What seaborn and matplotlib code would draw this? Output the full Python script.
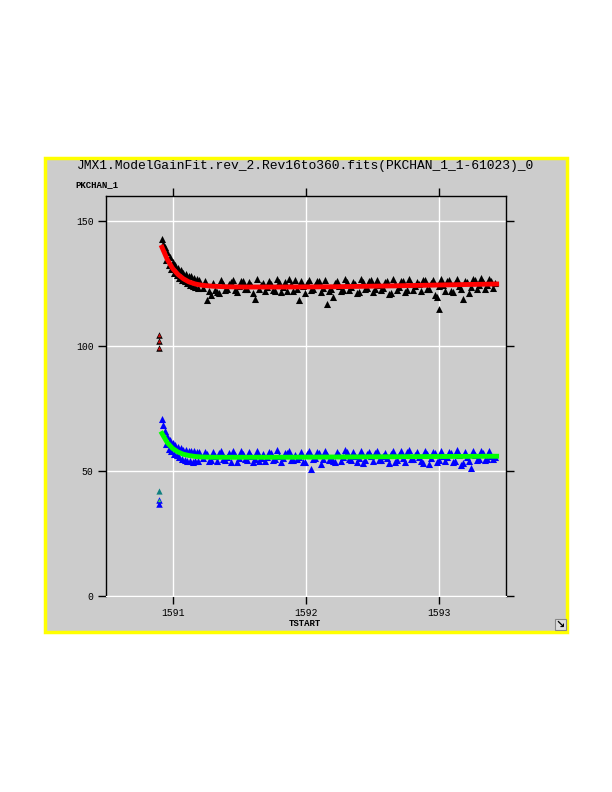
import matplotlib
matplotlib.use("Agg")
import matplotlib.pyplot as plt
from matplotlib.patches import Rectangle
from matplotlib.ticker import FormatStrFormatter
import seaborn as sns
import pandas as pd

# --- data ---
# time samples (TSTART), dense during the initial decay
tstart_early = [1590.92, 1590.93, 1590.94, 1590.95, 1590.96, 1590.97, 1590.98, 1590.99,
                1591.00, 1591.01, 1591.02, 1591.03, 1591.04, 1591.05, 1591.06, 1591.07,
                1591.08, 1591.09, 1591.10, 1591.11, 1591.12, 1591.13, 1591.14, 1591.15,
                1591.16, 1591.17, 1591.18, 1591.19, 1591.20]
tstart_late = [1591.23, 1591.26, 1591.29, 1591.32, 1591.35, 1591.38, 1591.41, 1591.44,
               1591.47, 1591.50, 1591.53, 1591.56, 1591.59, 1591.62, 1591.65, 1591.68,
               1591.71, 1591.74, 1591.77, 1591.80, 1591.83, 1591.86, 1591.89, 1591.92,
               1591.95, 1591.98, 1592.01, 1592.04, 1592.07, 1592.10, 1592.13, 1592.16,
               1592.19, 1592.22, 1592.25, 1592.28, 1592.31, 1592.34, 1592.37, 1592.40,
               1592.43, 1592.46, 1592.49, 1592.52, 1592.55, 1592.58, 1592.61, 1592.64,
               1592.67, 1592.70, 1592.73, 1592.76, 1592.79, 1592.82, 1592.85, 1592.88,
               1592.91, 1592.94, 1592.97, 1593.00, 1593.03, 1593.06, 1593.09, 1593.12,
               1593.15, 1593.18, 1593.21, 1593.24, 1593.27, 1593.30, 1593.33, 1593.36,
               1593.39, 1593.42]
tstart_mid = [1591.245, 1591.275, 1591.305, 1591.335, 1591.365, 1591.395, 1591.425, 1591.455,
              1591.485, 1591.515, 1591.545, 1591.575, 1591.605, 1591.635, 1591.665, 1591.695,
              1591.725, 1591.755, 1591.785, 1591.815, 1591.845, 1591.875, 1591.905, 1591.935,
              1591.965, 1591.995, 1592.025, 1592.055, 1592.085, 1592.115, 1592.145, 1592.175,
              1592.205, 1592.235, 1592.265, 1592.295, 1592.325, 1592.355, 1592.385, 1592.415,
              1592.445, 1592.475, 1592.505, 1592.535, 1592.565, 1592.595, 1592.625, 1592.655,
              1592.685, 1592.715, 1592.745, 1592.775, 1592.805, 1592.835, 1592.865, 1592.895,
              1592.925, 1592.955, 1592.985, 1593.015, 1593.045, 1593.075, 1593.105, 1593.135,
              1593.165, 1593.195, 1593.225, 1593.255, 1593.285, 1593.315, 1593.345, 1593.375,
              1593.405]

pk_high_early = [142.8, 141.0, 139.6, 134.5, 137.8, 132.6, 135.6, 130.8, 133.6, 129.4,
                 132.4, 128.3, 131.2, 127.2, 130.3, 126.5, 129.4, 125.9, 128.8, 125.2,
                 128.2, 124.6, 127.9, 124.1, 127.4, 123.6, 127.0, 123.2, 126.6]
pk_high_late = [123.2, 118.5, 120.6, 122.4, 121.2, 124.8, 123.0, 125.6, 122.6, 124.2,
                125.9, 122.8, 124.5, 118.8, 122.9, 125.4, 123.6, 124.9, 122.2, 125.8,
                123.5, 121.9, 124.7, 126.3, 118.3, 123.9, 125.1, 122.5, 124.4, 126.1,
                123.1, 116.8, 122.7, 125.2, 124.0, 122.4, 125.7, 123.8, 124.9, 121.6,
                125.5, 123.4, 126.4, 122.9, 124.6, 123.2, 125.9, 121.3, 124.8, 123.6,
                126.2, 122.6, 125.0, 123.9, 124.7, 126.5, 122.8, 125.3, 120.5, 123.9,
                124.4, 126.0, 122.1, 125.1, 124.2, 118.9, 125.6, 123.7, 126.3, 124.5,
                125.8, 124.6, 126.2, 125.3]
pk_high_mid = [126.0, 122.0, 125.3, 121.8, 126.4, 122.3, 124.9, 126.6, 121.5, 126.2,
               122.9, 125.8, 121.2, 126.7, 124.6, 121.9, 126.1, 122.5, 126.8, 121.7,
               125.5, 126.9, 122.1, 122.9, 126.0, 121.4, 126.3, 122.8, 125.9, 121.6,
               126.6, 122.2, 119.5, 126.1, 121.9, 126.8, 122.6, 125.6, 121.3, 126.9,
               122.7, 126.2, 121.8, 126.5, 122.4, 125.8, 120.9, 126.7, 122.3, 126.0,
               121.7, 126.9, 122.5, 125.7, 121.9, 126.6, 122.8, 126.4, 119.8, 126.9,
               122.2, 126.3, 121.6, 127.0, 122.7, 126.1, 121.1, 126.8, 122.9, 127.1,
               123.0, 126.7, 123.4]

pk_low_early = [71.0, 68.6, 66.2, 60.8, 63.9, 59.0, 62.4, 57.9, 61.3, 57.0, 60.4, 56.3,
                59.7, 55.6, 59.1, 55.0, 58.6, 54.6, 58.5, 54.2, 58.2, 53.9, 58.0, 53.8,
                57.9, 54.0, 57.8, 54.1, 57.6]
pk_low_late = [55.2, 56.8, 54.6, 56.1, 57.3, 54.9, 55.8, 53.6, 56.5, 55.3, 57.0, 54.4,
               56.2, 55.0, 53.9, 56.7, 55.5, 57.4, 54.7, 56.0, 55.1, 57.2, 54.3, 56.4,
               55.6, 53.8, 56.9, 51.0, 55.4, 57.1, 54.8, 56.3, 55.0, 53.5, 56.6, 55.7,
               57.5, 54.5, 56.1, 55.2, 53.4, 56.8, 55.9, 57.3, 54.6, 56.2, 55.4, 57.0,
               53.7, 56.5, 55.1, 57.6, 54.9, 56.3, 55.6, 53.2, 56.9, 55.3, 57.2, 54.4,
               56.0, 55.5, 57.4, 54.0, 56.6, 53.1, 55.8, 51.2, 56.4, 55.0, 57.1, 54.7,
               56.2, 55.6]
pk_low_mid = [57.8, 54.2, 57.5, 53.9, 58.0, 54.5, 57.3, 58.2, 53.6, 57.9, 54.8, 57.6,
              53.8, 58.1, 55.2, 54.0, 57.7, 54.6, 58.3, 53.7, 57.4, 58.0, 54.3, 54.9,
              57.8, 53.5, 57.9, 54.7, 57.6, 52.8, 58.2, 54.4, 53.9, 57.7, 54.1, 58.3,
              54.8, 57.5, 53.6, 58.1, 54.6, 57.8, 53.9, 58.0, 54.3, 57.4, 53.3, 58.2,
              54.5, 57.9, 53.8, 58.4, 54.7, 57.6, 54.0, 58.1, 52.9, 57.7, 53.5, 58.0,
              54.2, 57.8, 53.7, 58.3, 52.6, 57.6, 53.9, 58.2, 54.4, 57.9, 54.6, 58.1,
              55.0]

# isolated points
dip_x = [1593.00]
dip_high = [114.8]
first_x = [1590.90, 1590.90, 1590.90]
first_high = [104.5, 102.0, 99.3]
first_low = [42.0, 38.4, 36.8]

# model gain fit curves
fit_x = [1590.92, 1590.96, 1591.00, 1591.04, 1591.08, 1591.12, 1591.17, 1591.22,
         1591.30, 1591.40, 1591.52, 1591.80, 1592.20, 1592.60, 1593.00, 1593.43]
fit_high = [139.5, 134.6, 131.0, 128.6, 126.9, 125.7, 124.8, 124.3,
            123.9, 123.7, 123.6, 123.6, 123.7, 124.0, 124.4, 124.8]
fit_low = [65.0, 61.3, 59.0, 57.6, 56.7, 56.2, 55.8, 55.6,
           55.5, 55.5, 55.5, 55.5, 55.6, 55.7, 55.8, 55.9]

times = tstart_early + tstart_late + tstart_mid
high = pd.DataFrame({'TSTART': times, 'PKCHAN_1': pk_high_early + pk_high_late + pk_high_mid})
low = pd.DataFrame({'TSTART': times, 'PKCHAN_1': pk_low_early + pk_low_late + pk_low_mid})

GRAY = '#cccccc'
MONO = 'Liberation Mono'

fig = plt.figure(figsize=(6.12, 7.92), dpi=100)
fig.patch.set_facecolor('white')

# yellow framed gray panel, behind everything
fig.patches.append(Rectangle((45 / 612, 1 - 632 / 792), 522 / 612, 474 / 792,
                             transform=fig.transFigure, facecolor=GRAY,
                             edgecolor='#ffff00', linewidth=2.5, zorder=-10))

ax = fig.add_axes([106 / 612, 1 - 596 / 792, 400 / 612, 400 / 792])
ax.set_zorder(1)
ax.set_facecolor(GRAY)

tri = dict(marker='^', linewidth=0, legend=False, ax=ax)
sns.scatterplot(data=high, x='TSTART', y='PKCHAN_1', color='black', s=26, **tri)
sns.scatterplot(x=dip_x, y=dip_high, color='black', s=24, **tri)
sns.scatterplot(x=first_x, y=first_high, color='black', s=22, **tri)
sns.scatterplot(x=first_x, y=first_high, color='#d01010', s=7, **tri)
sns.lineplot(x=fit_x, y=fit_high, color='red', linewidth=3.5, sort=False, ax=ax)

sns.scatterplot(data=low, x='TSTART', y='PKCHAN_1', color='blue', s=26, **tri)
sns.scatterplot(x=first_x[1:], y=first_low[1:], color='blue', s=22, **tri)
sns.scatterplot(x=first_x[:1], y=first_low[:1], color='#108080', s=20, **tri)
sns.scatterplot(x=first_x[1:2], y=first_low[1:2], color='#40e040', s=6, **tri)
sns.lineplot(x=fit_x, y=fit_low, color='#00ff00', linewidth=3.5, sort=False, ax=ax)

ax.set_xlim(1590.5, 1593.5)
ax.set_ylim(0, 160)
ax.set_xticks([1591, 1592, 1593])
ax.set_yticks([0, 50, 100, 150])
ax.xaxis.set_major_formatter(FormatStrFormatter('%d'))
ax.grid(True, color='white', linewidth=1)
ax.set_axisbelow(True)
ax.tick_params(axis='both', direction='out', length=6, width=1, color='black',
               labelsize=7, pad=3, top=True, right=True, labeltop=False, labelright=False)
for lab in ax.get_xticklabels() + ax.get_yticklabels():
    lab.set_fontfamily(MONO)
for side in ['left', 'right', 'top']:
    ax.spines[side].set_color('black')
    ax.spines[side].set_linewidth(1)
ax.spines['bottom'].set_color('white')
ax.set_xlabel('')
ax.set_ylabel('')

fig.text(306 / 612, 1 - 166 / 792, 'JMX1.ModelGainFit.rev_2.Rev16to360.fits(PKCHAN_1_1-61023)_0',
         ha='center', va='center', fontsize=9.4, family=MONO)
fig.text(75 / 612, 1 - 185 / 792, 'PKCHAN_1', ha='left', va='center',
         fontsize=6.5, family=MONO, fontweight='bold')
fig.text(305 / 612, 1 - 623 / 792, 'TSTART', ha='center', va='center',
         fontsize=6.5, family=MONO, fontweight='bold')

# little resize icon in the corner
fig.patches.append(Rectangle((555 / 612, 1 - 630 / 792), 11 / 612, 11 / 792,
                             transform=fig.transFigure, facecolor='#dddddd',
                             edgecolor='#888888', linewidth=0.8))
fig.text(560.5 / 612, 1 - 624.5 / 792, '\u2198', ha='center', va='center',
         fontsize=8, fontweight='bold', color='black', family='DejaVu Sans')

fig.savefig('out.png', dpi=100, facecolor='white')
